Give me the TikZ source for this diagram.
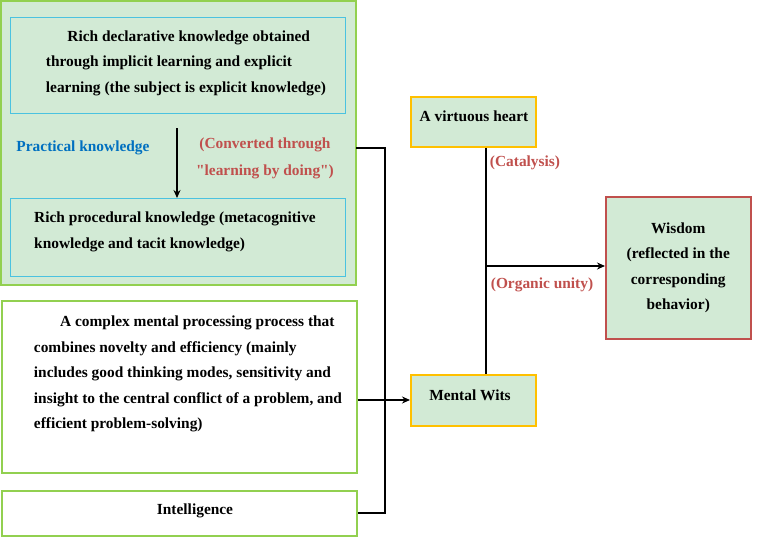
\documentclass[tikz,border=0pt]{standalone}
\usepackage{fontspec}
\setmainfont{Liberation Serif}
\usetikzlibrary{arrows.meta}
\definecolor{gfill}{HTML}{D2EAD5}
\definecolor{gbord}{HTML}{92D050}
\definecolor{cbord}{HTML}{4BC2E0}
\definecolor{ybord}{HTML}{FFC000}
\definecolor{rbord}{HTML}{C0504D}
\definecolor{rtext}{HTML}{C0504D}
\definecolor{btext}{HTML}{0070C0}
\begin{document}
\begin{tikzpicture}[x=1pt,y=-1pt,
  box/.style={draw, line width=1.5pt},
  txt/.style={font=\fontsize{15.4}{25.5}\selectfont\bfseries, align=left, inner sep=0},
  lab/.style={font=\fontsize{15.4}{25.5}\selectfont\bfseries, inner sep=0},
  conn/.style={line width=1.3pt},
  arr/.style={conn,-{Stealth[length=8pt,width=7pt]}}]
\useasboundingbox (0,0) rectangle (760,538);
\filldraw[box, draw=gbord, fill=gfill] (1,1) rectangle (356,285);
\node[box, draw=cbord, line width=0.8pt, fill=gfill, minimum width=335, minimum height=96, anchor=north west] (decl) at (10,17) {};
\node[txt] at (186,63) {\hspace*{1.4em}Rich declarative knowledge obtained\\through implicit learning and explicit\\learning (the subject is explicit knowledge)};
\node[box, draw=cbord, line width=0.8pt, fill=gfill, minimum width=335, minimum height=78, anchor=north west] (proc) at (10,198) {};
\node[txt] at (175,232) {Rich procedural knowledge (metacognitive\\knowledge and tacit knowledge)};
\coordinate (p1) at (177,128);
\draw[arr] (p1) -- (proc.north -| p1);
\node[lab, text=btext] (pk) at (83,148) {Practical knowledge};
\node[lab, text=rtext, align=center, font=\fontsize{15.4}{27}\selectfont\bfseries] (conv) at (265,158) {(Converted through\\\textquotedbl learning by doing\textquotedbl)};
\node[box, draw=gbord, fill=white, minimum width=355, minimum height=172, anchor=north west] (proc2) at (1,300) {};
\node[txt] at (188,374) {\hspace*{1.7em}A complex mental processing process that\\combines novelty and efficiency (mainly\\includes good thinking modes, sensitivity and\\insight to the central conflict of a problem, and\\efficient problem-solving)};
\node[box, draw=gbord, fill=white, minimum width=355, minimum height=45, anchor=north west] (intel) at (1,490) {};
\node[lab] at (195,511) {Intelligence};
\node[box, draw=ybord, fill=gfill, minimum width=125, minimum height=50, anchor=north west] (heart) at (410,96) {};
\node[lab] at (474,116) {A virtuous heart};
\node[box, draw=ybord, fill=gfill, minimum width=125, minimum height=51, anchor=north west] (wits) at (410,374) {};
\node[lab] at (470,395) {Mental Wits};
\node[box, draw=rbord, fill=gfill, minimum width=145, minimum height=142, anchor=north west, align=center, font=\fontsize{15.4}{25.5}\selectfont\bfseries] (wis) at (605,196) {Wisdom\\(reflected in the\\corresponding\\behavior)};
\coordinate (v) at (486,266);
\draw[conn] (heart.south -| v) -- (wits.north -| v);
\draw[arr] (v) -- (wis.west |- v);
\node[lab, text=rtext] at (525,163) {(Catalysis)};
\node[lab, text=rtext] at (542,285) {(Organic unity)};
\coordinate (b1) at (385,148);
\coordinate (b2) at (385,513);
\draw[conn] (356,148) -- (b1) -- (b2) -- (intel.east |- b2);
\draw[arr] (proc2.east |- 0,400) -- (wits.west |- 0,400);
\end{tikzpicture}
\end{document}
